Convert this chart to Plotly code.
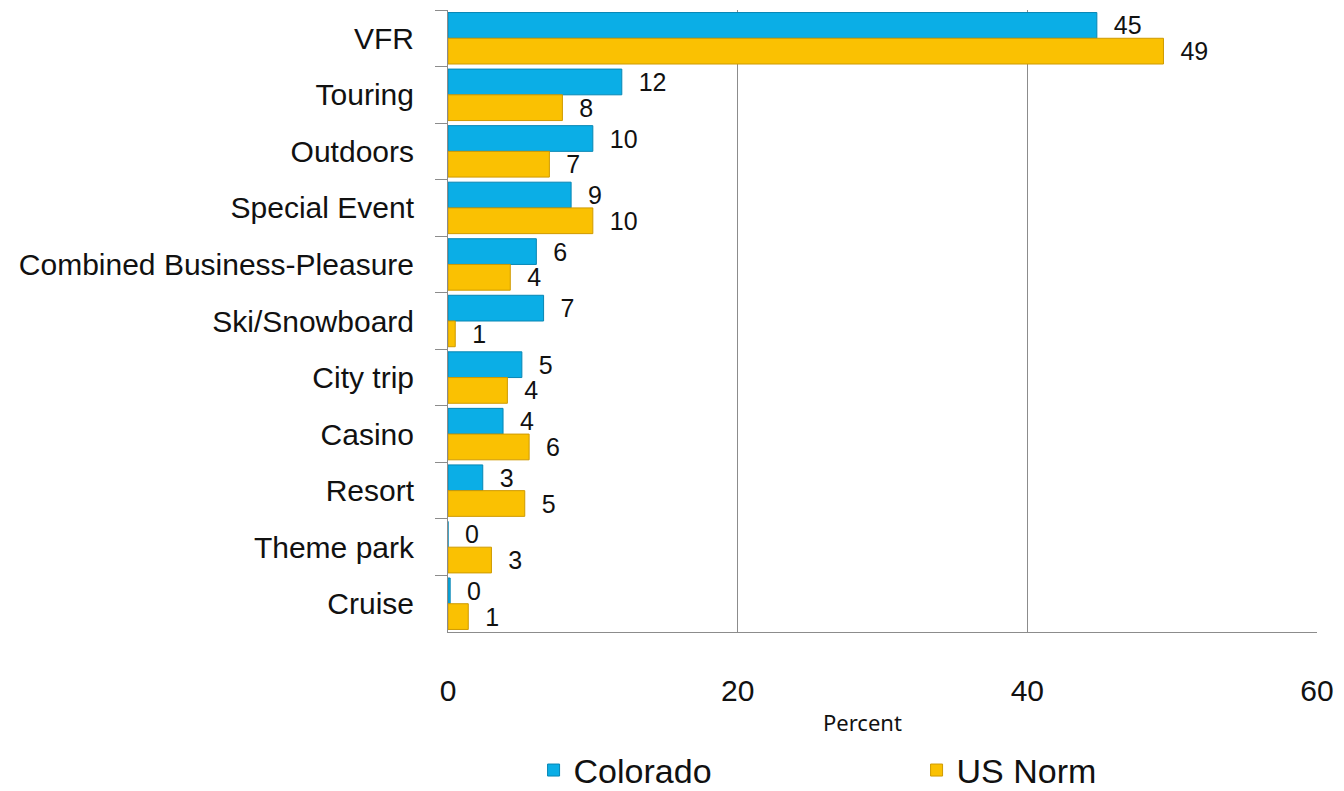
import plotly.graph_objects as go

categories = ["VFR", "Touring", "Outdoors", "Special Event", "Combined Business-Pleasure",
              "Ski/Snowboard", "City trip", "Casino", "Resort", "Theme park", "Cruise"]
colorado = [44.8, 12.0, 10.0, 8.5, 6.1, 6.6, 5.1, 3.8, 2.4, 0.0, 0.15]
us_norm = [49.4, 7.9, 7.0, 10.0, 4.3, 0.5, 4.1, 5.6, 5.3, 3.0, 1.4]
colorado_labels = ["45", "12", "10", "9", "6", "7", "5", "4", "3", "0", "0"]
us_norm_labels = ["49", "8", "7", "10", "4", "1", "4", "6", "5", "3", "1"]
x_ticks = [0, 20, 40, 60]

fig = go.Figure()
fig.add_trace(go.Bar(
    y=categories, x=colorado, orientation="h", name="Colorado",
    marker=dict(color="#0BAEE6", line=dict(color="#0786B4", width=1)),
    text=colorado_labels, texttemplate="  %{text}", textposition="outside",
    textfont=dict(family="Liberation Sans, Arial", size=25, color="#111"),
    constraintext="none", cliponaxis=False, hoverinfo="skip"))
fig.add_trace(go.Bar(
    y=categories, x=us_norm, orientation="h", name="US Norm",
    marker=dict(color="#FAC102", line=dict(color="#CF9A00", width=1)),
    text=us_norm_labels, texttemplate="  %{text}", textposition="outside",
    textfont=dict(family="Liberation Sans, Arial", size=25, color="#111"),
    constraintext="none", cliponaxis=False, hoverinfo="skip"))

fig.update_layout(
    width=1344, height=791,
    margin=dict(l=448, r=24, t=10, b=159),
    paper_bgcolor="white", plot_bgcolor="white",
    barmode="group", bargap=0.09, bargroupgap=0,
    font=dict(family="Liberation Sans, Arial", color="#111"),
    xaxis=dict(range=[0, 60], tickvals=x_ticks, ticktext=[str(v) for v in x_ticks],
               showgrid=True, gridcolor="#8C8C8C", gridwidth=1,
               showline=True, linecolor="#8C8C8C", linewidth=1,
               zeroline=False, ticks="", ticklabelstandoff=32,
               tickfont=dict(family="Liberation Sans, Arial", size=30, color="#111")),
    yaxis=dict(categoryorder="array", categoryarray=categories, autorange="reversed",
               showline=True, linecolor="#8C8C8C", linewidth=1,
               ticks="outside", tickson="boundaries", ticklen=12, tickcolor="#8C8C8C",
               ticklabelstandoff=27, showgrid=False,
               tickfont=dict(family="Liberation Sans, Arial", size=30, color="#111")),
    legend=dict(orientation="h", xref="container", yref="container",
                x=0.397, xanchor="left", y=0.026, yanchor="middle",
                entrywidth=338, entrywidthmode="pixels",
                font=dict(family="Liberation Sans, Arial", size=34, color="#111")),
    annotations=[dict(text="Percent", xref="paper", yref="paper", x=0.477, y=-0.145,
                      xanchor="center", yanchor="middle", showarrow=False,
                      font=dict(family="Noto Sans", size=22, color="#111"))],
)

fig.write_html("out.html")
